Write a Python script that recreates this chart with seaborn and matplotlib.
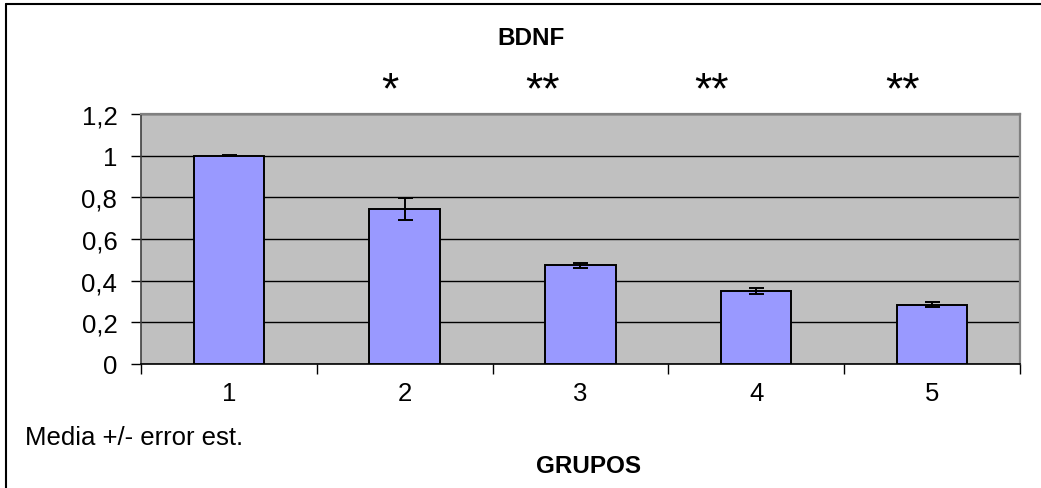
import matplotlib
matplotlib.use("Agg")
import matplotlib.pyplot as plt
import matplotlib.transforms as mtransforms
from matplotlib.lines import Line2D
from matplotlib.ticker import FixedLocator, FuncFormatter
import seaborn as sns
import pandas as pd

# BDNF expression per group (mean +/- standard error)
grupos = ["1", "2", "3", "4", "5"]
bdnf_media = [1.0, 0.745, 0.475, 0.35, 0.285]
bdnf_error = [0.002, 0.052, 0.012, 0.016, 0.013]
significancia = ["", "*", "**", "**", "**"]
star_shift = [0.0, -0.084, -0.213, -0.252, -0.166]
y_ticks = [0, 0.2, 0.4, 0.6, 0.8, 1.0, 1.2]

sns.set_theme(style="white")
plt.rcParams["font.family"] = ["Liberation Sans", "DejaVu Sans"]

df = pd.DataFrame({"grupo": grupos, "media": bdnf_media})

fig = plt.figure(figsize=(10.41, 4.89), dpi=100)
ax = fig.add_axes([0.1354, 0.2536, 0.8444, 0.5112])
ax.set_facecolor("#C0C0C0")

sns.barplot(data=df, x="grupo", y="media", color="#9999FF", saturation=1,
            edgecolor="black", linewidth=1.4, width=0.4, errorbar=None, ax=ax,
            zorder=3)
ax.errorbar(range(len(grupos)), bdnf_media, yerr=bdnf_error, fmt="none",
            ecolor="black", elinewidth=1.4, capsize=5.4, capthick=1.4, zorder=4)

ax.set_ylim(0, 1.2)
ax.set_xlim(-0.5, len(grupos) - 0.5)
ax.yaxis.set_major_locator(FixedLocator(y_ticks))
ax.yaxis.set_major_formatter(FuncFormatter(lambda v, p: f"{v:g}".replace(".", ",")))
ax.grid(axis="y", color="black", linewidth=1.0, zorder=1)
ax.set_axisbelow(True)

# x labels centered in categories, tick marks on category boundaries
ax.xaxis.set_minor_locator(FixedLocator([i - 0.5 for i in range(len(grupos) + 1)]))
ax.tick_params(axis="x", which="major", length=0, pad=12, labelsize=18.5, colors="black")
ax.tick_params(axis="x", which="minor", length=7, width=1, direction="out",
               color="black", bottom=True)
ax.tick_params(axis="y", length=7, width=1, direction="out", left=True,
               pad=10, labelsize=18.5, colors="black")
ax.set_xlabel("")
ax.set_ylabel("")

for side in ["top", "right"]:
    ax.spines[side].set_color("#808080")
    ax.spines[side].set_linewidth(1.6)
ax.spines["left"].set_color("#404040")
ax.spines["left"].set_linewidth(1.2)
ax.spines["bottom"].set_color("black")
ax.spines["bottom"].set_linewidth(1.2)

# significance marks above the bars
star_tf = mtransforms.blended_transform_factory(ax.transData, fig.transFigure)
for i, s in enumerate(significancia):
    if s:
        ax.text(i + star_shift[i], 0.789, s, transform=star_tf, ha="center",
                va="baseline", fontsize=32, color="black")

fig.text(0.510, 0.922, "BDNF", ha="center", va="center", fontsize=17.5,
         fontweight="bold", color="black")
fig.text(0.565, 0.045, "GRUPOS", ha="center", va="center", fontsize=17.5,
         fontweight="bold", color="black")
fig.text(0.024, 0.104, "Media +/- error est.", ha="left", va="center",
         fontsize=18.5, color="black")

# chart frame
fig.add_artist(Line2D([0.0058, 0.0058], [0.0, 0.990], transform=fig.transFigure,
                      color="black", linewidth=1.5))
fig.add_artist(Line2D([0.0058, 1.0], [0.990, 0.990], transform=fig.transFigure,
                      color="black", linewidth=1.5))

fig.savefig("out.png", dpi=100)
